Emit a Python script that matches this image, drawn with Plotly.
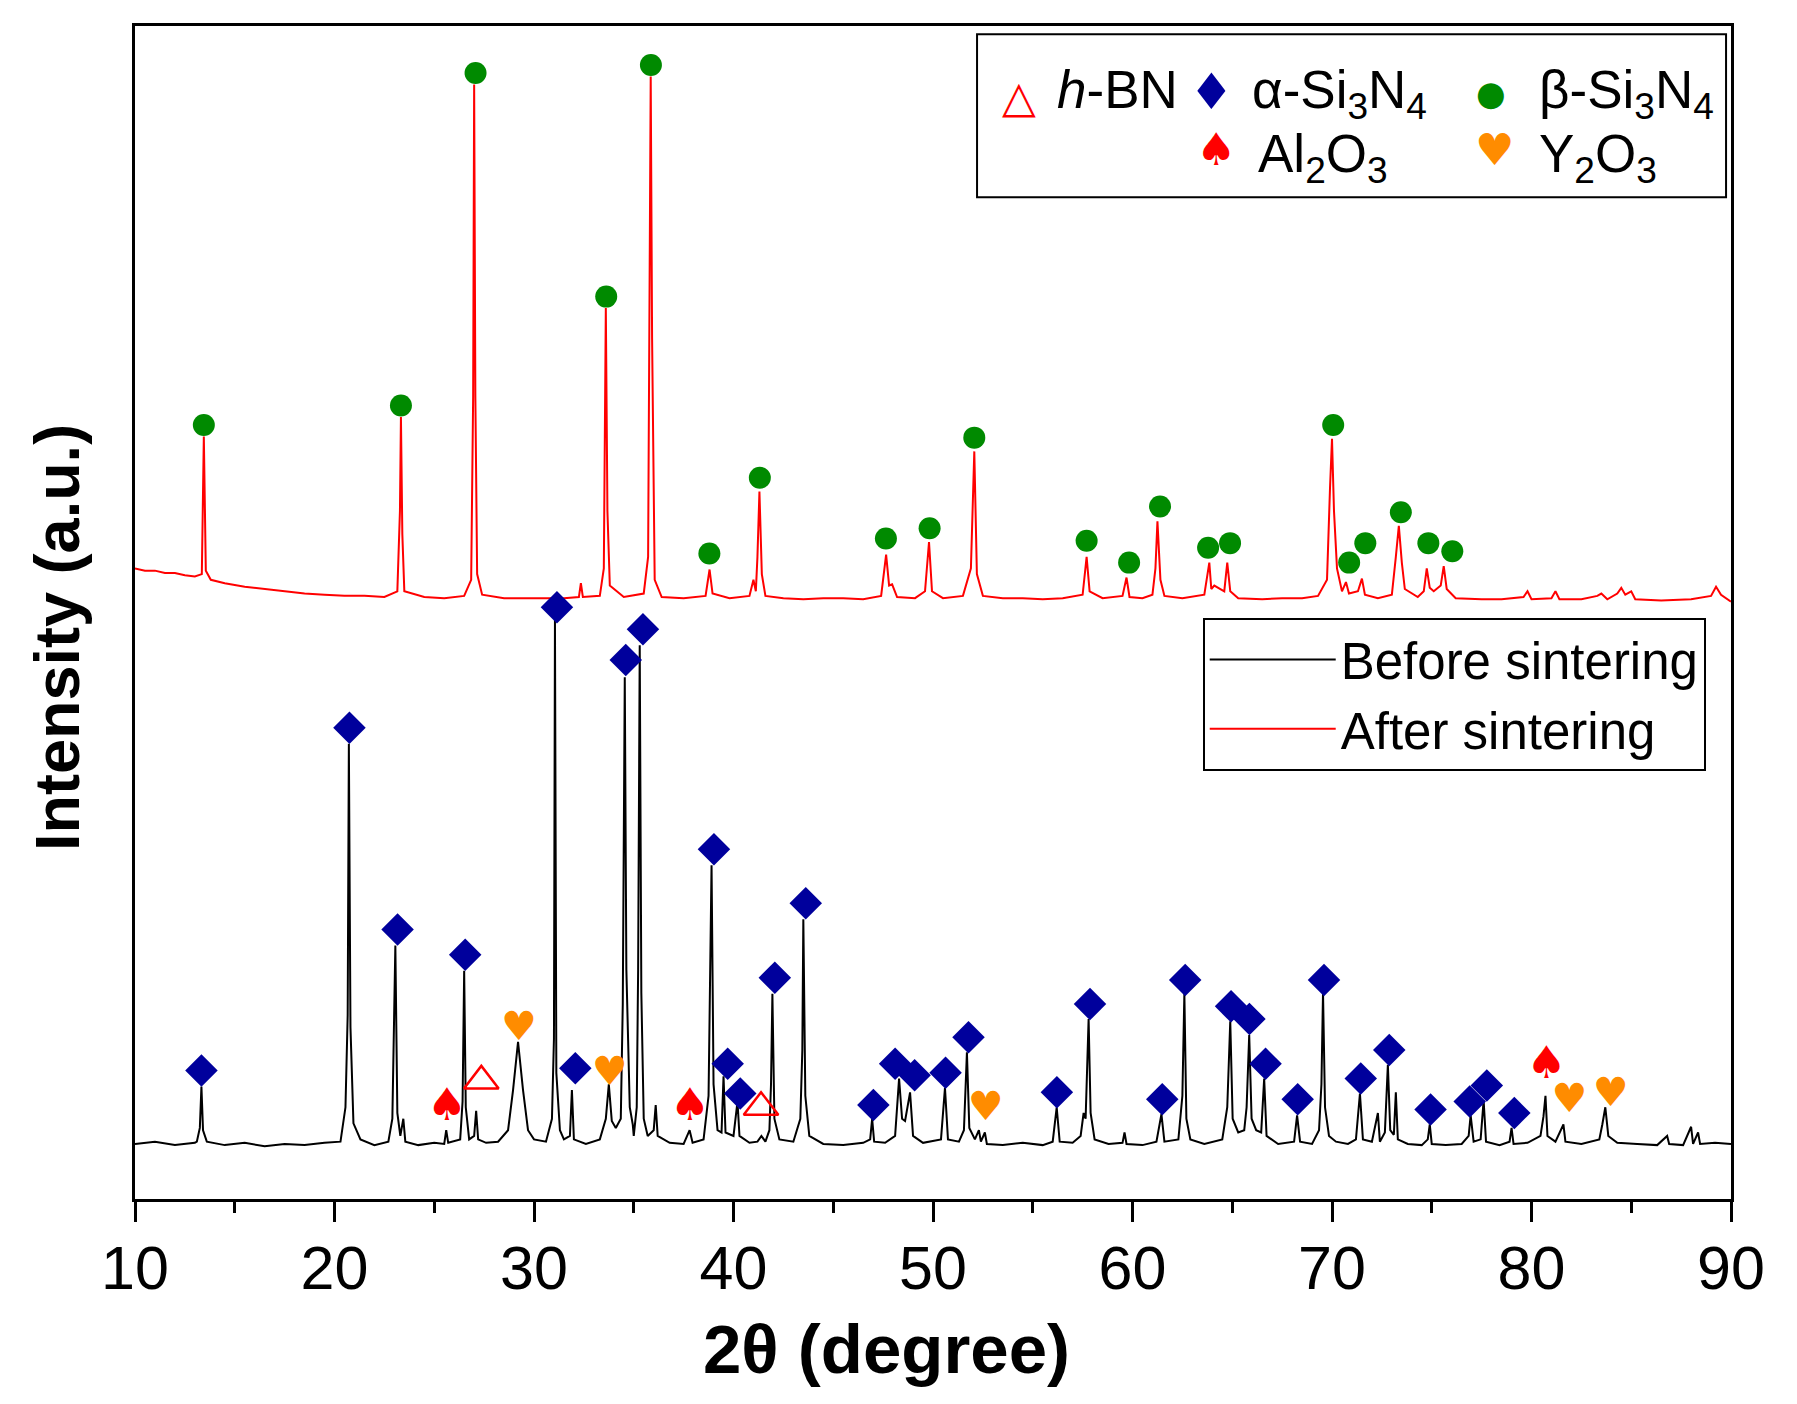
import plotly.graph_objects as go

# XRD pattern before sintering (2theta in degree, intensity in a.u.)
x_before = [10.0, 11.0, 12.0, 13.0, 13.1, 13.25, 13.33, 13.41, 13.6, 14.5, 15.5, 16.5, 17.5, 18.5, 19.5,
            20.3, 20.55, 20.66, 20.72, 20.8, 20.95, 21.3, 22.0, 22.7, 22.9, 23.05, 23.15, 23.3, 23.45, 23.55,
            24.2, 25.0, 25.5, 25.6, 25.7, 26.3, 26.42, 26.5, 26.58, 26.75, 27.0, 27.1, 27.2, 27.6, 28.2,
            28.7, 28.95, 29.2, 29.45, 29.7, 30.0, 30.6, 30.9, 31.0, 31.05, 31.12, 31.3, 31.5, 31.8, 31.9,
            32.0, 32.6, 33.3, 33.6, 33.75, 33.9, 34.1, 34.35, 34.45, 34.55, 34.63, 34.8, 34.95, 35.0, 35.15,
            35.22, 35.3, 35.38, 35.5, 35.7, 36.0, 36.1, 36.2, 36.8, 37.5, 37.8, 37.95, 38.5, 38.75, 38.9,
            39.0, 39.2, 39.4, 39.5, 39.6, 40.0, 40.2, 40.3, 40.8, 41.2, 41.4, 41.6, 41.8, 41.88, 41.95,
            42.05, 42.3, 43.0, 43.35, 43.45, 43.5, 43.6, 43.8, 44.5, 45.5, 46.5, 46.85, 46.95, 47.05, 47.6,
            48.1, 48.3, 48.45, 48.6, 48.85, 49.0, 49.5, 50.4, 50.6, 50.75, 51.3, 51.55, 51.7, 51.82, 52.1,
            52.3, 52.4, 52.6, 52.7, 53.5, 54.5, 55.5, 56.0, 56.2, 56.35, 57.0, 57.4, 57.55, 57.65, 57.8,
            57.9, 58.1, 58.8, 59.5, 59.6, 59.7, 60.5, 61.2, 61.45, 61.6, 62.3, 62.5, 62.6, 62.7, 62.9,
            63.6, 64.5, 64.75, 64.9, 65.02, 65.3, 65.6, 65.72, 65.85, 65.97, 66.2, 66.45, 66.6, 66.72, 67.3,
            68.1, 68.25, 68.4, 69.0, 69.35, 69.47, 69.55, 69.65, 69.85, 70.2, 70.8, 71.2, 71.4, 71.55, 72.0,
            72.3, 72.4, 72.65, 72.8, 72.92, 73.1, 73.2, 73.3, 73.8, 74.5, 74.8, 74.9, 75.0, 75.7, 76.5,
            76.85, 76.95, 77.1, 77.45, 77.6, 77.72, 78.4, 78.9, 79.0, 79.1, 79.8, 80.45, 80.6, 80.7, 80.8,
            81.2, 81.6, 81.7, 82.5, 83.4, 83.55, 83.7, 83.85, 84.3, 85.3, 86.3, 86.8, 86.9, 87.6, 88.0,
            88.1, 88.35, 88.45, 89.2, 90.0]
y_before = [48, 50, 47, 49, 50, 62, 98, 60, 50, 47, 49, 46, 48, 47, 49,
            50, 80, 160, 397, 150, 66, 52, 47, 50, 70, 221, 75, 55, 70, 50,
            47, 49, 48, 60, 49, 52, 85, 199, 80, 52, 55, 77, 52, 49, 50,
            60, 95, 137, 95, 60, 52, 50, 70, 140, 505, 110, 60, 52, 55, 95,
            52, 48, 52, 70, 100, 68, 62, 70, 170, 455, 200, 80, 65, 55, 80,
            200, 483, 180, 70, 55, 60, 82, 55, 49, 48, 60, 49, 52, 90, 291,
            100, 60, 58, 107, 58, 55, 85, 55, 49, 50, 55, 50, 60, 100, 179,
            70, 52, 50, 70, 130, 244, 90, 55, 48, 47, 49, 52, 70, 50, 49,
            55, 105, 70, 68, 93, 55, 49, 52, 97, 52, 50, 60, 128, 62, 52,
            60, 50, 58, 48, 47, 49, 47, 50, 80, 50, 49, 55, 75, 70, 157,
            75, 52, 48, 49, 58, 48, 47, 50, 74, 50, 52, 90, 179, 70, 52,
            48, 52, 80, 155, 70, 58, 60, 80, 143, 70, 60, 58, 105, 55, 48,
            50, 73, 50, 48, 60, 100, 180, 80, 55, 50, 48, 52, 92, 52, 50,
            75, 50, 58, 117, 60, 56, 93, 52, 48, 47, 52, 65, 48, 47, 48,
            55, 73, 50, 52, 86, 50, 47, 50, 62, 48, 49, 55, 72, 90, 55,
            50, 65, 50, 48, 52, 65, 80, 55, 49, 48, 47, 55, 48, 47, 63,
            48, 58, 48, 49, 48]

# XRD pattern after sintering
x_after = [10.0, 10.5, 11.0, 11.5, 12.0, 12.5, 13.0, 13.35, 13.45, 13.55, 13.8, 14.5, 15.5, 16.5, 17.5,
           18.5, 19.5, 20.5, 21.5, 22.5, 23.15, 23.28, 23.33, 23.4, 23.5, 24.5, 25.5, 26.5, 26.85, 26.95,
           27.0, 27.06, 27.15, 27.4, 28.5, 29.5, 30.5, 31.5, 32.25, 32.35, 32.45, 33.3, 33.5, 33.57, 33.6,
           33.68, 33.8, 34.5, 35.5, 35.72, 35.8, 35.85, 35.92, 36.05, 36.4, 37.5, 38.6, 38.8, 38.95, 39.8,
           40.8, 41.0, 41.12, 41.2, 41.3, 41.42, 41.6, 42.5, 43.5, 44.5, 45.5, 46.5, 47.4, 47.65, 47.8,
           47.95, 48.2, 49.1, 49.6, 49.8, 49.95, 50.5, 51.5, 51.9, 52.07, 52.2, 52.5, 53.5, 54.5, 55.5,
           56.5, 57.5, 57.7, 57.85, 58.5, 59.5, 59.7, 59.85, 60.5, 61.0, 61.15, 61.25, 61.4, 61.6, 62.5,
           63.6, 63.85, 63.95, 64.1, 64.6, 64.75, 64.9, 65.3, 66.5, 67.5, 68.5, 69.3, 69.75, 69.9, 70.0,
           70.1, 70.25, 70.5, 70.7, 70.85, 71.3, 71.5, 71.65, 72.3, 73.0, 73.2, 73.35, 73.5, 73.65, 74.3,
           74.6, 74.75, 74.9, 75.1, 75.45, 75.6, 75.75, 76.2, 77.5, 78.5, 79.6, 79.8, 80.0, 81.0, 81.2,
           81.4, 82.5, 83.3, 83.5, 83.8, 84.3, 84.5, 84.7, 85.0, 85.2, 86.5, 88.0, 89.0, 89.25, 89.5,
           90.0]
y_after = [550, 548, 548, 546, 546, 544, 543, 545, 665, 548, 540, 537, 534, 532, 530,
           528, 527, 526, 526, 525, 530, 600, 682, 580, 530, 525, 524, 526, 540, 700,
           972, 700, 545, 527, 524, 524, 524, 524, 525, 537, 525, 526, 550, 700, 777,
           600, 535, 525, 528, 560, 800, 979, 750, 540, 525, 524, 526, 549, 528, 524,
           526, 540, 530, 560, 617, 545, 526, 524, 523, 524, 524, 523, 526, 562, 535,
           536, 525, 524, 530, 573, 530, 524, 526, 550, 652, 545, 526, 524, 524, 523,
           524, 527, 560, 530, 524, 526, 542, 525, 524, 527, 550, 591, 540, 526, 524,
           527, 555, 532, 535, 530, 555, 530, 524, 523, 524, 524, 526, 540, 620, 663,
           600, 550, 530, 538, 528, 530, 541, 527, 524, 527, 560, 587, 555, 532, 525,
           530, 550, 533, 530, 535, 552, 532, 524, 523, 523, 525, 530, 523, 524, 530,
           523, 523, 526, 528, 523, 528, 533, 527, 530, 523, 522, 523, 526, 534, 527,
           521]

# phase markers
alpha_x = [13.33, 20.75, 23.16, 26.55, 31.15, 32.07, 34.60, 35.46, 39.02, 39.71, 40.34, 42.07, 43.62,
           47.01, 48.10, 49.08, 50.63, 51.78, 56.21, 57.87, 61.49, 62.64, 64.94, 65.86, 66.67, 68.28,
           69.60, 71.44, 72.87, 74.94, 76.90, 77.76, 79.14]
alpha_y = [112, 411, 235, 213, 516, 114, 470, 497, 305, 118, 92, 193, 258,
           82, 118, 108, 110, 141, 93, 170, 87, 191, 168, 157, 118, 87,
           191, 105, 130, 78, 85, 99, 75]
beta_x = [13.45, 23.33, 27.07, 33.62, 35.86, 38.79, 41.32, 47.64, 49.83, 52.07, 57.70, 59.83, 61.38,
          63.79, 64.89, 70.06, 70.86, 71.67, 73.45, 74.83, 76.03]
beta_y = [675, 692, 982, 787, 989, 563, 629, 576, 585, 664, 574, 555, 604,
          568, 572, 675, 555, 572, 599, 572, 565]
al2o3_x = [25.63, 37.82, 80.75]
al2o3_y = [79, 79, 115]
y2o3_x = [29.25, 33.79, 52.64, 81.90, 83.97]
y2o3_y = [147, 108, 78, 85, 90]
hbn_x = [27.36, 41.38]
hbn_y = [103, 80]

FONT = "Liberation Sans, Arial, sans-serif"
NAVY = "#00009c"
GREEN = "#008a00"
ORANGE = "#ff8c00"
RED = "#ff0000"

fig = go.Figure()
fig.add_trace(go.Scatter(x=x_before, y=y_before, mode="lines", name="Before sintering",
                         line=dict(color="black", width=2)))
fig.add_trace(go.Scatter(x=x_after, y=y_after, mode="lines", name="After sintering",
                         line=dict(color=RED, width=2)))
fig.add_trace(go.Scatter(x=alpha_x, y=alpha_y, mode="markers", showlegend=False,
                         marker=dict(symbol="diamond", size=25, color=NAVY)))
fig.add_trace(go.Scatter(x=beta_x, y=beta_y, mode="markers", showlegend=False,
                         marker=dict(symbol="circle", size=22, color=GREEN)))
fig.add_trace(go.Scatter(x=hbn_x, y=hbn_y, mode="markers", showlegend=False,
                         marker=dict(symbol="triangle-up-open", size=30, color=RED, line=dict(width=2.5))))
fig.add_trace(go.Scatter(x=al2o3_x, y=al2o3_y, mode="text", text=["♠"] * len(al2o3_x), showlegend=False,
                         textfont=dict(family="DejaVu Sans", size=45, color=RED)))
fig.add_trace(go.Scatter(x=y2o3_x, y=y2o3_y, mode="text", text=["♥"] * len(y2o3_x), showlegend=False,
                         textfont=dict(family="DejaVu Sans", size=40, color=ORANGE)))

# phase legend box (top right)
fig.add_shape(type="rect", xref="paper", yref="paper", x0=0.5276, x1=0.9969, y0=0.854, y1=0.993,
              line=dict(color="black", width=2), fillcolor="white", layer="below")
symbols = [("△", RED, 0.5539, 0.9395, 44), ("♦", NAVY, 0.6748, 0.9440, 50), ("●", GREEN, 0.8496, 0.9430, 34),
           ("♠", RED, 0.6773, 0.895, 45), ("♥", ORANGE, 0.8521, 0.895, 44)]
for s, c, sx, sy, fs in symbols:
    fig.add_annotation(x=sx, y=sy, xref="paper", yref="paper", text=s, showarrow=False,
                       xanchor="center", yanchor="middle", font=dict(family="DejaVu Sans", size=fs, color=c))
labels = [("<i>h</i>-BN", 0.5764, 0.973), ("α-Si<sub>3</sub>N<sub>4</sub>", 0.6986, 0.973),
          ("β-Si<sub>3</sub>N<sub>4</sub>", 0.8784, 0.973), ("Al<sub>2</sub>O<sub>3</sub>", 0.7024, 0.918),
          ("Y<sub>2</sub>O<sub>3</sub>", 0.8784, 0.918)]
for t, lx, ly in labels:
    fig.add_annotation(x=lx, y=ly, xref="paper", yref="paper", text=t, showarrow=False,
                       xanchor="left", yanchor="top", font=dict(family=FONT, size=53, color="black"))

# axis titles, placed as in the original figure
fig.add_annotation(x=-0.049, y=0.479, xref="paper", yref="paper", text="<b>Intensity (a.u.)</b>",
                   showarrow=False, textangle=-90, xanchor="center", yanchor="middle",
                   font=dict(family=FONT, size=63, color="black"))
fig.add_annotation(x=0.4706, y=-0.1287, xref="paper", yref="paper", text="<b>2θ (degree)</b>",
                   showarrow=False, xanchor="center", yanchor="middle",
                   font=dict(family=FONT, size=69, color="black"))

fig.update_layout(
    width=1797, height=1404,
    margin=dict(l=127, r=74, t=18, b=213),
    paper_bgcolor="white", plot_bgcolor="white",
    font=dict(family=FONT, color="black"),
    legend=dict(x=0.669, y=0.4955, xanchor="left", yanchor="top", bordercolor="black", borderwidth=2,
                bgcolor="white", font=dict(family=FONT, size=51), itemwidth=126),
)
fig.update_xaxes(range=[10, 90], dtick=10, tick0=10, ticks="outside", ticklen=20, tickwidth=3,
                 tickcolor="black", showline=True, linewidth=3, linecolor="black", mirror=True,
                 showgrid=False, zeroline=False, tickfont=dict(family=FONT, size=61), ticklabelstandoff=-6,
                 minor=dict(dtick=5, ticks="outside", ticklen=11, tickwidth=3, tickcolor="black"))
fig.update_yaxes(range=[0, 1023], showticklabels=False, ticks="", showline=True, linewidth=3,
                 linecolor="black", mirror=True, showgrid=False, zeroline=False)

fig.write_html("out.html")
